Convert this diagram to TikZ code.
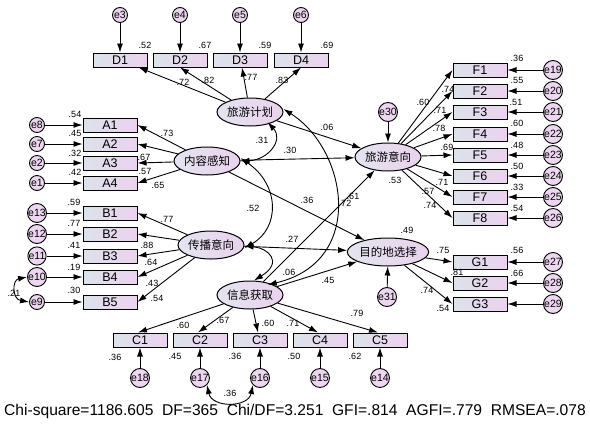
\documentclass[tikz,border=0pt]{standalone}
\usepackage{fontspec}
\setmainfont{Liberation Sans}
\newfontfamily\cjk{Noto Sans CJK SC}
\usetikzlibrary{shapes.geometric,arrows.meta}
\definecolor{boxL}{HTML}{DCE2EA}
\definecolor{boxR}{HTML}{ECD2EF}
\definecolor{latL}{HTML}{E4E4EF}
\definecolor{latR}{HTML}{EAD2EE}
\definecolor{errC}{HTML}{EDD6F0}
\tikzset{
  obsbox/.style={draw, line width=1pt, minimum width=54pt, minimum height=14pt, inner sep=0pt,
    left color=boxL, right color=boxR, font=\fontsize{12.5}{12.5}\selectfont},
  latent/.style={ellipse, draw, line width=1pt, minimum width=66pt, minimum height=28pt, inner sep=0pt,
    left color=latL, right color=latR, font=\cjk\fontsize{11.5}{12}\selectfont},
  errc/.style={circle, draw, line width=0.9pt, minimum size=15pt, inner sep=0pt, fill=errC,
    font=\fontsize{10.5}{10.5}\selectfont},
  lab/.style={inner sep=0pt, font=\fontsize{9}{9}\selectfont},
  arr/.style={-{Latex[length=9pt,width=6pt]}, line width=0.9pt},
  cov/.style={{Latex[length=9pt,width=6pt]}-{Latex[length=9pt,width=6pt]}, line width=0.9pt}
}
\begin{document}
\begin{tikzpicture}[x=1pt,y=-1pt]
\useasboundingbox (0,0) rectangle (590,424);
% latent variables
\node[latent] (plan) at (250,112) {旅游计划};
\node[latent] (cont) at (207,161) {内容感知};
\node[latent] (spread) at (211,245) {传播意向};
\node[latent] (info) at (250,295) {信息获取};
\node[latent] (intent) at (388,157) {旅游意向};
\node[latent] (dest) at (388,252) {目的地选择};
% D
\foreach \n/\x/\e in {1/120/3,2/180/4,3/240/5,4/301/6}{
  \node[obsbox] (D\n) at (\x,60) {D\n};
  \node[errc] (e\e) at (\x,15) {e\e};
  \draw[arr] (e\e) -- (D\n);
}
\draw[arr] (plan) -- (D1);
\draw[arr] (plan) -- (D2.south);
\draw[arr] (plan) -- ([xshift=2pt]D3.south);
\draw[arr] (plan) -- (D4.south);
% A
\foreach \n/\y/\e in {1/125/8,2/144/7,3/163/2,4/183/1}{
  \node[obsbox] (A\n) at (110,\y) {A\n};
  \node[errc] (e\e) at (37,\y) {e\e};
  \draw[arr] (e\e) -- (A\n);
  \draw[arr] (cont) -- (A\n.east);
}
% B
\foreach \n/\y/\e in {1/213/13,2/234/12,3/256/11,4/277/10,5/302/9}{
  \node[obsbox] (B\n) at (110,\y) {B\n};
  \node[errc] (e\e) at (37,\y) {e\e};
  \draw[arr] (e\e) -- (B\n);
  \draw[arr] (spread) -- (B\n.east);
}
% C
\foreach \n/\x/\e in {1/140/18,2/200/17,3/260/16,4/320/15,5/380/14}{
  \node[obsbox] (C\n) at (\x,340) {C\n};
  \node[errc] (e\e) at (\x,378) {e\e};
  \draw[arr] (e\e) -- (C\n);
  \draw[arr] (info) -- ([xshift=-2pt]C\n.north);
}
% F
\foreach \n/\y/\e in {1/70/19,2/91/20,3/112/21,4/134/22,5/155/23,6/176/24,7/197/25,8/218/26}{
  \node[obsbox] (F\n) at (480,\y) {F\n};
  \node[errc] (e\e) at (553,\y) {e\e};
  \draw[arr] (e\e) -- (F\n);
  \draw[arr] (intent) -- (F\n.west);
}
% G
\foreach \n/\y/\e in {1/262/27,2/283/28,3/304/29}{
  \node[obsbox] (G\n) at (480,\y) {G\n};
  \node[errc] (e\e) at (553,\y) {e\e};
  \draw[arr] (e\e) -- (G\n);
  \draw[arr] (dest) -- (G\n.west);
}
\node[errc] (e30) at (388,112) {e30};
\node[errc] (e31) at (387,297) {e31};
\draw[arr] (e30) -- (intent);
\draw[arr] (e31) -- (dest);
% structural paths
\draw[arr] (plan) -- (intent);
\draw[arr] (cont) -- (intent);
\draw[arr] (cont) -- (dest);
\draw[arr] (spread) -- (dest);
\draw[arr] (info) -- (intent);
\draw[arr] (info) -- (dest);
% covariances
\draw[cov] (cont.east) .. controls (268,160) and (284,140) .. ([xshift=-6pt]plan.south east);
\draw[cov] ([yshift=3pt]cont.east) .. controls (280,185) and (280,228) .. ([yshift=-3pt]spread.east);
\draw[cov] ([yshift=-1pt]spread.east) .. controls (268,248) and (284,262) .. ([xshift=4pt]info.north);
\draw[cov] ([yshift=3pt]plan.east) .. controls (348,150) and (366,262) .. ([xshift=-6pt]info.north east);
\draw[cov] (e10.west) .. controls (12,280) and (12,299) .. (e9.west);
\draw[cov] (e17.south east) .. controls (212,408) and (248,408) .. (e16.south west);
% labels: D
\node[lab] at (145,45) {.52};
\node[lab] at (205,45) {.67};
\node[lab] at (265,45) {.59};
\node[lab] at (327,45) {.69};
\node[lab] at (183,82) {.72};
\node[lab] at (208,80) {.82};
\node[lab] at (251,77) {.77};
\node[lab] at (282,80) {.83};
% A
\node[lab] at (75,114) {.54};
\node[lab] at (75,133) {.45};
\node[lab] at (75,153) {.32};
\node[lab] at (75,172) {.42};
\node[lab] at (167,133) {.73};
\node[lab] at (144,157) {.67};
\node[lab] at (145,171) {.57};
\node[lab] at (158,185) {.65};
% B
\node[lab] at (74,202) {.59};
\node[lab] at (74,223) {.77};
\node[lab] at (74,245) {.41};
\node[lab] at (74,267) {.19};
\node[lab] at (74,290) {.30};
\node[lab] at (167,219) {.77};
\node[lab] at (147,245) {.88};
\node[lab] at (151,262) {.64};
\node[lab] at (152,283) {.43};
\node[lab] at (157,298) {.54};
\node[lab] at (14,293) {.21};
% C
\node[lab] at (115,357) {.36};
\node[lab] at (175,356) {.45};
\node[lab] at (235,356) {.36};
\node[lab] at (294,356) {.50};
\node[lab] at (355,356) {.62};
\node[lab] at (183,325) {.60};
\node[lab] at (223,320) {.67};
\node[lab] at (268,323) {.60};
\node[lab] at (293,323) {.71};
\node[lab] at (357,313) {.79};
\node[lab] at (230,393) {.36};
% F
\node[lab] at (517,58) {.36};
\node[lab] at (517,80) {.55};
\node[lab] at (516,102) {.51};
\node[lab] at (517,123) {.60};
\node[lab] at (517,145) {.48};
\node[lab] at (517,166) {.50};
\node[lab] at (517,187) {.33};
\node[lab] at (517,208) {.54};
\node[lab] at (423,102) {.60};
\node[lab] at (448,89) {.74};
\node[lab] at (440,110) {.71};
\node[lab] at (439,128) {.78};
\node[lab] at (447,147) {.69};
\node[lab] at (442,182) {.71};
\node[lab] at (428,191) {.57};
\node[lab] at (430,205) {.74};
\node[lab] at (395,180) {.53};
% G
\node[lab] at (407,230) {.49};
\node[lab] at (443,250) {.75};
\node[lab] at (517,250) {.56};
\node[lab] at (457,272) {.81};
\node[lab] at (517,273) {.66};
\node[lab] at (427,290) {.74};
\node[lab] at (443,308) {.54};
% structural
\node[lab] at (327,127) {.06};
\node[lab] at (262,140) {.31};
\node[lab] at (290,150) {.30};
\node[lab] at (307,200) {.36};
\node[lab] at (345,203) {.72};
\node[lab] at (353,196) {.61};
\node[lab] at (253,208) {.52};
\node[lab] at (292,239) {.27};
\node[lab] at (289,272) {.06};
\node[lab] at (328,280) {.45};
% fit
\node[inner sep=0pt, font=\fontsize{15.6}{15.6}\selectfont] (fit) at (295,411)
  {Chi-square=1186.605\ \ DF=365\ \ Chi/DF=3.251\ \ GFI=.814\ \ AGFI=.779\ \ RMSEA=.078};
\end{tikzpicture}
\end{document}
